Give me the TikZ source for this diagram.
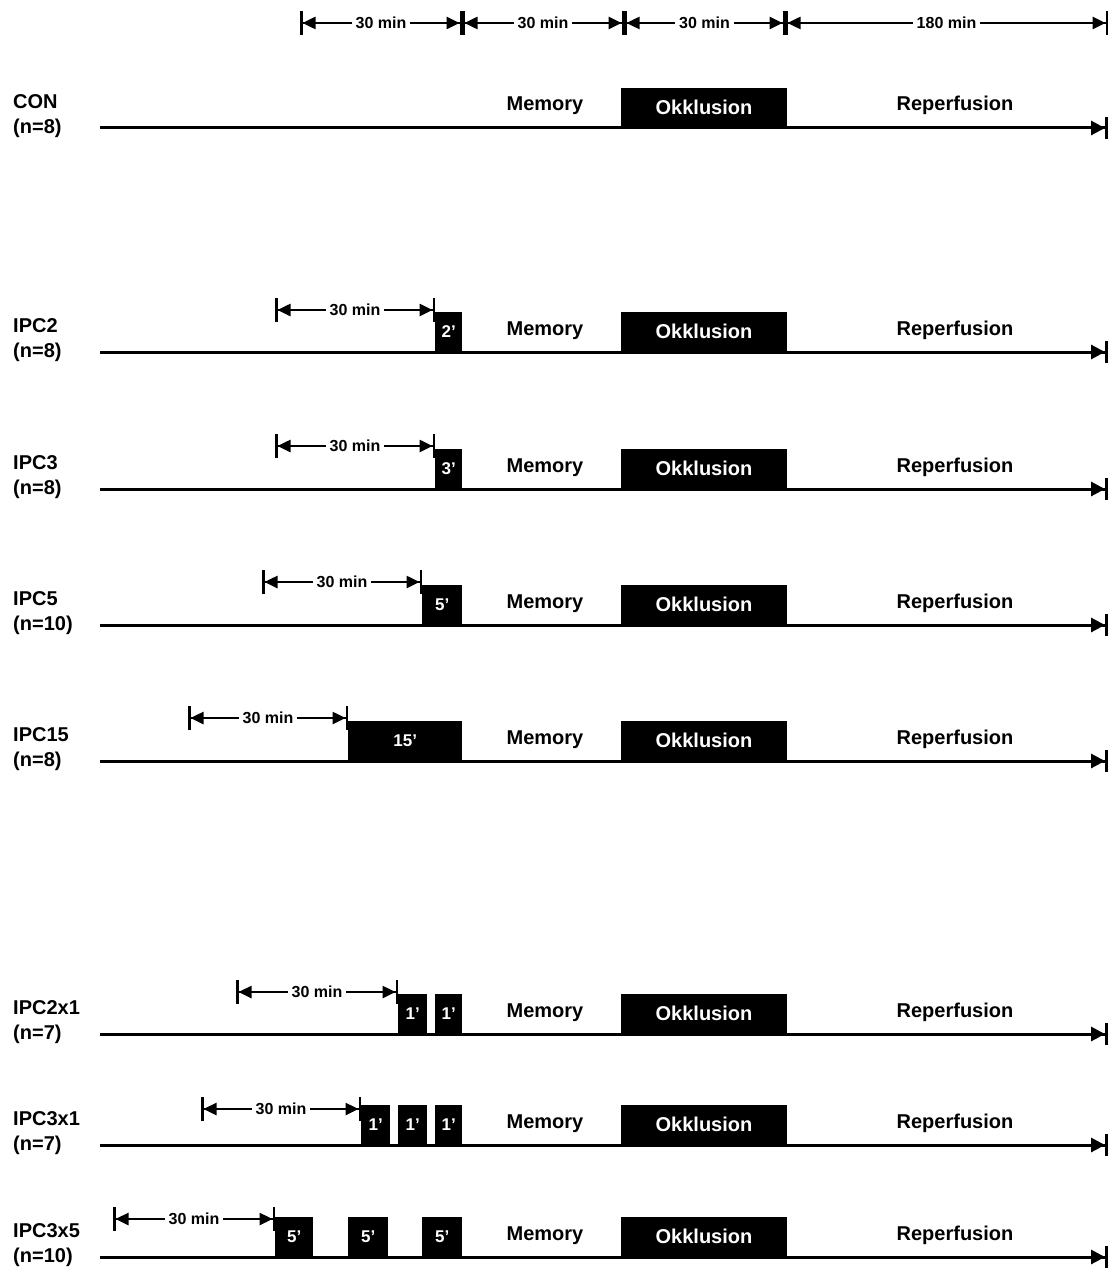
\documentclass[tikz,border=0pt]{standalone}
\usepackage{fontspec}
\setmainfont{Liberation Sans}
\usetikzlibrary{arrows.meta,positioning,calc}
\tikzset{
timeline/.style={line width=3pt,-{Triangle[length=14pt,width=14pt]Bar[width=22pt]}},
dim/.style={line width=2.5pt,{Bar[width=24pt]Triangle[length=13pt,width=12pt]}-{Triangle[length=13pt,width=12pt]Bar[width=24pt]}},
dimlabel/.style={fill=white,inner ysep=1pt,inner xsep=4pt,font=\fontsize{16}{18}\selectfont\bfseries},
phase/.style={anchor=base,font=\fontsize{20}{24}\selectfont\bfseries},
occbox/.style={fill=black,text=white,minimum width=166pt,minimum height=40pt,inner sep=0pt,anchor=south,font=\fontsize{20}{24}\selectfont\bfseries},
pcbox/.style={fill=black,text=white,minimum height=40pt,inner sep=0pt,anchor=south west,font=\fontsize{17}{20}\selectfont\bfseries},
grouplabel/.style={anchor=west,inner sep=0pt,font=\fontsize{20}{24}\selectfont\bfseries},
}

\begin{document}
\begin{tikzpicture}[x=1pt,y=-1pt]
    \useasboundingbox (0,0) rectangle (1114,1268);

    % time scale
    \coordinate (t0) at (300,23);
    \coordinate (t1) at (462,23);
    \coordinate (t2) at (624,23);
    \coordinate (t3) at (785,23);
    \coordinate (t4) at (1108,23);
    \draw[dim] (t0) -- (t1) node[midway, dimlabel] {30 min};
    \draw[dim] (t1) -- (t2) node[midway, dimlabel] {30 min};
    \draw[dim] (t2) -- (t3) node[midway, dimlabel] {30 min};
    \draw[dim] (t3) -- (t4) node[midway, dimlabel] {180 min};

    % common part of all protocols
    \foreach \nm/\ly/\lab/\size in {con/128/CON/8, ipc2/352/IPC2/8, ipc3/489/IPC3/8,
            ipc5/625/IPC5/10, ipc15/761/IPC15/8, ipc2x1/1034/IPC2x1/7,
            ipc3x1/1145/IPC3x1/7, ipc3x5/1257/IPC3x5/10}{
        \coordinate (\nm-s) at (100,\ly);
        \coordinate (\nm-e) at (1108,\ly);
        \draw[timeline] (\nm-s) -- (\nm-e);
        \node[occbox] (\nm-occ) at (704,\ly) {Okklusion};
        \node[phase] (\nm-mem) at (545,\ly-17) {Memory};
        \node[phase] (\nm-rep) at (955,\ly-17) {Reperfusion};
        \node[grouplabel] (\nm-name) at (13,\ly-26) {\lab};
        \node[grouplabel] (\nm-n) at (13,\ly) {(n=\size)};
    }

    % IPC2
    \node[pcbox, minimum width=27pt] (ipc2-p1) at (435,352) {2'};
    \coordinate (ipc2-d) at (275,310);
    \draw[dim] (ipc2-d) -- (ipc2-d -| ipc2-p1.west)
        node[midway, dimlabel] {30 min};

    % IPC3
    \node[pcbox, minimum width=27pt] (ipc3-p1) at (435,489) {3'};
    \coordinate (ipc3-d) at (275,446);
    \draw[dim] (ipc3-d) -- (ipc3-d -| ipc3-p1.west)
        node[midway, dimlabel] {30 min};

    % IPC5
    \node[pcbox, minimum width=40pt] (ipc5-p1) at (422,625) {5'};
    \coordinate (ipc5-d) at (262,582);
    \draw[dim] (ipc5-d) -- (ipc5-d -| ipc5-p1.west)
        node[midway, dimlabel] {30 min};

    % IPC15
    \node[pcbox, minimum width=114pt] (ipc15-p1) at (348,761) {15'};
    \coordinate (ipc15-d) at (188,718);
    \draw[dim] (ipc15-d) -- (ipc15-d -| ipc15-p1.west)
        node[midway, dimlabel] {30 min};

    % IPC2x1
    \node[pcbox, minimum width=29pt] (ipc2x1-p1) at (398,1034) {1'};
    \node[pcbox, minimum width=27pt] (ipc2x1-p2) at (435,1034) {1'};
    \coordinate (ipc2x1-d) at (236,992);
    \draw[dim] (ipc2x1-d) -- (ipc2x1-d -| ipc2x1-p1.west)
        node[midway, dimlabel] {30 min};

    % IPC3x1
    \node[pcbox, minimum width=29pt] (ipc3x1-p1) at (361,1145) {1'};
    \node[pcbox, minimum width=29pt] (ipc3x1-p2) at (398,1145) {1'};
    \node[pcbox, minimum width=27pt] (ipc3x1-p3) at (435,1145) {1'};
    \coordinate (ipc3x1-d) at (201,1109);
    \draw[dim] (ipc3x1-d) -- (ipc3x1-d -| ipc3x1-p1.west)
        node[midway, dimlabel] {30 min};

    % IPC3x5
    \node[pcbox, minimum width=38pt] (ipc3x5-p1) at (275,1257) {5'};
    \node[pcbox, minimum width=40pt] (ipc3x5-p2) at (348,1257) {5'};
    \node[pcbox, minimum width=40pt] (ipc3x5-p3) at (422,1257) {5'};
    \coordinate (ipc3x5-d) at (113,1219);
    \draw[dim] (ipc3x5-d) -- (ipc3x5-d -| ipc3x5-p1.west)
        node[midway, dimlabel] {30 min};
\end{tikzpicture}
\end{document}
